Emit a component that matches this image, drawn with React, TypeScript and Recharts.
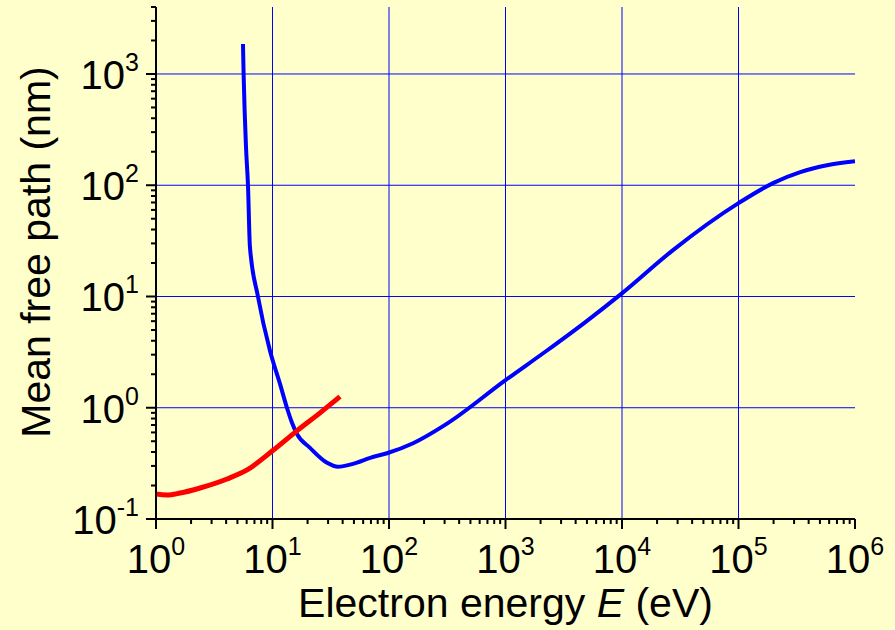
import React from 'react';
import { LineChart, Line, XAxis, YAxis, ReferenceLine, Label } from 'recharts';

// universal curve (blue) – energy in eV, mean free path in nm
const blueEnergy = [5.58, 5.65, 5.93, 6.16, 6.4, 7.5, 9.5, 11.6, 13.3, 14.7, 16.2, 21, 29.4, 36.5, 49, 69, 96, 161, 315, 1000, 2270, 4790, 9800, 26900, 100000, 200000, 339000, 575000, 1000000];
const blueMfp = [1860, 1000, 215, 100, 28, 10, 3.27, 1.64, 1.0, 0.733, 0.583, 0.436, 0.32, 0.295, 0.313, 0.355, 0.39, 0.48, 0.72, 1.77, 3.27, 5.83, 10.5, 25.7, 69, 105, 131, 151, 164];

// low-energy branch (red)
const redEnergy = [0.89, 1.24, 1.61, 2.39, 4.07, 6.05, 10, 16.2, 25.6, 38];
const redMfp = [0.171, 0.164, 0.171, 0.19, 0.229, 0.276, 0.41, 0.62, 0.9, 1.26];

const xMajor = [1, 10, 100, 1000, 10000, 100000, 1000000];
const yMajor = [0.1, 1, 10, 100, 1000];
const xGrid = [10, 100, 1000, 10000, 100000];
const yGrid = [1, 10, 100, 1000];
const xDomain = [1, 1000000];
const yDomain = [0.1, 4000];

const minorsFor = (majors: number[], max: number) => {
  const out: number[] = [];
  majors.forEach((m) => {
    for (let k = 1; k <= 9; k++) {
      const v = m * k;
      if (v <= max * 1.0001) out.push(v);
    }
  });
  return out;
};
const xTicks = minorsFor(xMajor, xDomain[1]);
const yTicks = minorsFor(yMajor, yDomain[1]);

const blueData = blueEnergy.map((E, i) => ({ E, mfp: blueMfp[i] }));
const redData = redEnergy.map((E, i) => ({ E, mfp: redMfp[i] }));

const FONT = '"Liberation Sans", Arial, sans-serif';

const isMajor = (v: number) => {
  const l = Math.log10(v);
  return Math.abs(l - Math.round(l)) < 1e-6;
};

const XTick = (props: any) => {
  const { x, y, payload } = props;
  const v = payload.value;
  const major = isMajor(v);
  return (
    <g>
      <line x1={x} x2={x} y1={y} y2={y + (major ? 10 : 5)} stroke="#000" strokeWidth={2} />
      {major && (
        <text x={x} y={y + 54} textAnchor="middle" fontFamily={FONT} fontSize={40} fill="#000">
          <tspan>10</tspan>
          <tspan dy={-18} fontSize={25}>{Math.round(Math.log10(v))}</tspan>
        </text>
      )}
    </g>
  );
};

const YTick = (props: any) => {
  const { x, y, payload } = props;
  const v = payload.value;
  const major = isMajor(v);
  return (
    <g>
      <line x1={x} x2={x - (major ? 10 : 5)} y1={y} y2={y} stroke="#000" strokeWidth={2} />
      {major && (
        <text x={x - 17} y={y + 15} textAnchor="end" fontFamily={FONT} fontSize={40} fill="#000">
          <tspan>10</tspan>
          <tspan dy={-18} fontSize={25}>{Math.round(Math.log10(v))}</tspan>
        </text>
      )}
    </g>
  );
};

const XTitle = (props: any) => {
  const { x, y, width } = props.viewBox;
  return (
    <text x={x + width / 2} y={y + 98} textAnchor="middle" fontFamily={FONT} fontSize={41} fill="#000">
      Electron energy <tspan fontStyle="italic">E</tspan> (eV)
    </text>
  );
};

const YTitle = (props: any) => {
  const { y, height } = props.viewBox;
  const cx = 50;
  const cy = y + height / 2 - 11;
  return (
    <text
      x={cx}
      y={cy}
      transform={`rotate(-90, ${cx}, ${cy})`}
      textAnchor="middle"
      fontFamily={FONT}
      fontSize={41}
      fill="#000"
    >
      Mean free path (nm)
    </text>
  );
};

export default function App() {
  return (
    <div style={{ position: 'absolute', left: 0, top: 0, width: 895, height: 630, background: '#FFFFCC' }}>
      <LineChart width={895} height={630} margin={{ top: 7, right: 40, left: 0, bottom: 0 }}>
        <XAxis
          dataKey="E"
          type="number"
          scale="log"
          domain={xDomain}
          allowDataOverflow
          ticks={xTicks}
          interval={0}
          tickSize={0}
          tickMargin={0}
          tickLine={false}
          tick={<XTick />}
          axisLine={{ stroke: '#000', strokeWidth: 2 }}
          height={111}
        >
          <Label content={<XTitle />} />
        </XAxis>
        <YAxis
          type="number"
          scale="log"
          domain={yDomain}
          allowDataOverflow
          ticks={yTicks}
          interval={0}
          tickSize={0}
          tickMargin={0}
          tickLine={false}
          tick={<YTick />}
          axisLine={{ stroke: '#000', strokeWidth: 2 }}
          width={156}
        >
          <Label content={<YTitle />} />
        </YAxis>
        {xGrid.map((v) => (
          <ReferenceLine key={'x' + v} x={v} stroke="#0000ff" strokeWidth={1} />
        ))}
        {yGrid.map((v) => (
          <ReferenceLine key={'y' + v} y={v} stroke="#0000ff" strokeWidth={1} />
        ))}
        <Line
          data={blueData}
          dataKey="mfp"
          type="monotone"
          stroke="#0000ff"
          strokeWidth={4}
          dot={false}
          isAnimationActive={false}
        />
        <Line
          data={redData}
          dataKey="mfp"
          type="monotone"
          stroke="#ff0000"
          strokeWidth={5}
          dot={false}
          isAnimationActive={false}
        />
      </LineChart>
    </div>
  );
}
